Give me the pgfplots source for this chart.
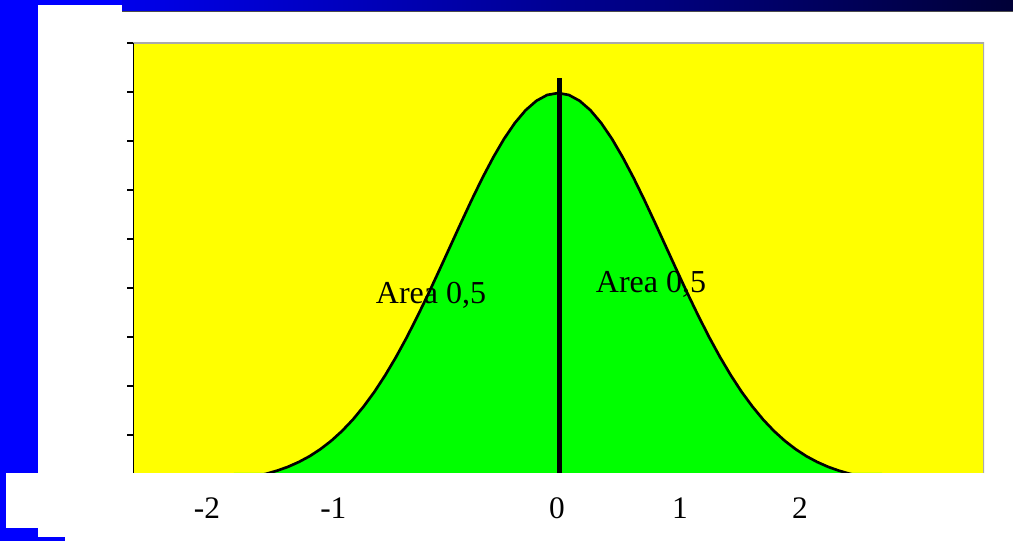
\documentclass[border=0pt]{standalone}
\usepackage{pgfplots}
\pgfplotsset{compat=1.18}
\usepackage{fontspec}
\setmainfont{Liberation Serif}
\definecolor{slideblue}{RGB}{0,0,255}
\definecolor{topleft}{RGB}{0,0,235}
\definecolor{topright}{RGB}{0,0,55}
\definecolor{areagreen}{RGB}{0,255,0}
\definecolor{bgyellow}{RGB}{255,255,0}
\definecolor{bordergray}{RGB}{170,170,170}
\pgfplotstableread{
x y
-3.0 0.0044
-2.9 0.0060
-2.8 0.0079
-2.7 0.0104
-2.6 0.0136
-2.5 0.0175
-2.4 0.0224
-2.3 0.0283
-2.2 0.0355
-2.1 0.0440
-2.0 0.0540
-1.9 0.0656
-1.8 0.0790
-1.7 0.0940
-1.6 0.1109
-1.5 0.1295
-1.4 0.1497
-1.3 0.1714
-1.2 0.1942
-1.1 0.2179
-1.0 0.2420
-0.9 0.2661
-0.8 0.2897
-0.7 0.3123
-0.6 0.3332
-0.5 0.3521
-0.4 0.3683
-0.3 0.3814
-0.2 0.3910
-0.1 0.3970
0.0 0.3989
0.1 0.3970
0.2 0.3910
0.3 0.3814
0.4 0.3683
0.5 0.3521
0.6 0.3332
0.7 0.3123
0.8 0.2897
0.9 0.2661
1.0 0.2420
1.1 0.2179
1.2 0.1942
1.3 0.1714
1.4 0.1497
1.5 0.1295
1.6 0.1109
1.7 0.0940
1.8 0.0790
1.9 0.0656
2.0 0.0540
2.1 0.0440
2.2 0.0355
2.3 0.0283
2.4 0.0224
2.5 0.0175
2.6 0.0136
2.7 0.0104
2.8 0.0079
2.9 0.0060
3.0 0.0044
}\normaldata
\begin{document}
\begin{tikzpicture}[x=0.75pt,y=0.75pt]
\path[use as bounding box] (0,0) rectangle (1013,541);
% slide decoration
\fill[slideblue] (0,68) rectangle (38,541);
\fill[slideblue] (0,13) rectangle (6,68);
\fill[slideblue] (0,0) rectangle (38,13);
\fill[slideblue] (38,0) rectangle (65,4);
\fill[slideblue] (38,536) rectangle (122,541);
\shade[left color=topleft,right color=topright] (122,529) rectangle (1013,541);
\draw[black!70,line width=0.75pt] (122,529) -- (1013,529);
\begin{axis}[
  at={(99.75pt,51pt)}, anchor=south west,
  width=638.25pt, height=322.5pt, scale only axis,
  xmin=-3.935, xmax=3.944, ymin=0.0112, ymax=0.45,
  axis background/.style={fill=bgyellow},
  axis line style={draw=none},
  clip=true,
  ytick={0.05,0.1,0.15,0.2,0.25,0.3,0.35,0.4,0.45},
  yticklabels={},
  ytick pos=left,
  ytick style={black, line width=1.1pt},
  tick align=outside,
  major tick length=4.5pt,
  xtick={-3.25,-2.08,-0.01,1.13,2.24},
  xticklabels={-2,-1,0,1,2},
  x tick style={draw=none},
  xticklabel style={anchor=base, yshift=-30pt, font=\fontsize{23.5}{28}\selectfont},
  /pgf/number format/assume math mode=true,
]
\addplot[fill=areagreen, draw=none] table[x=x,y=y] {\normaldata} \closedcycle;
\addplot[black, line width=2pt] table[x=x,y=y] {\normaldata};
\draw[black, line width=4pt] (axis cs:0.015,0.0112) -- (axis cs:0.015,0.414);
\node[anchor=base, inner sep=0pt, font=\fontsize{24}{28}\selectfont] at (axis cs:-1.176,0.1837) {Area 0,5};
\node[anchor=base, inner sep=0pt, font=\fontsize{24}{28}\selectfont] at (axis cs:0.861,0.1949) {Area 0,5};
\draw[bordergray, line width=1.5pt] (rel axis cs:0,1) -- (rel axis cs:1,1) -- (rel axis cs:1,0);
\draw[black, line width=1.5pt] (rel axis cs:0,0) -- (rel axis cs:0,1);
\end{axis}
\end{tikzpicture}
\end{document}
